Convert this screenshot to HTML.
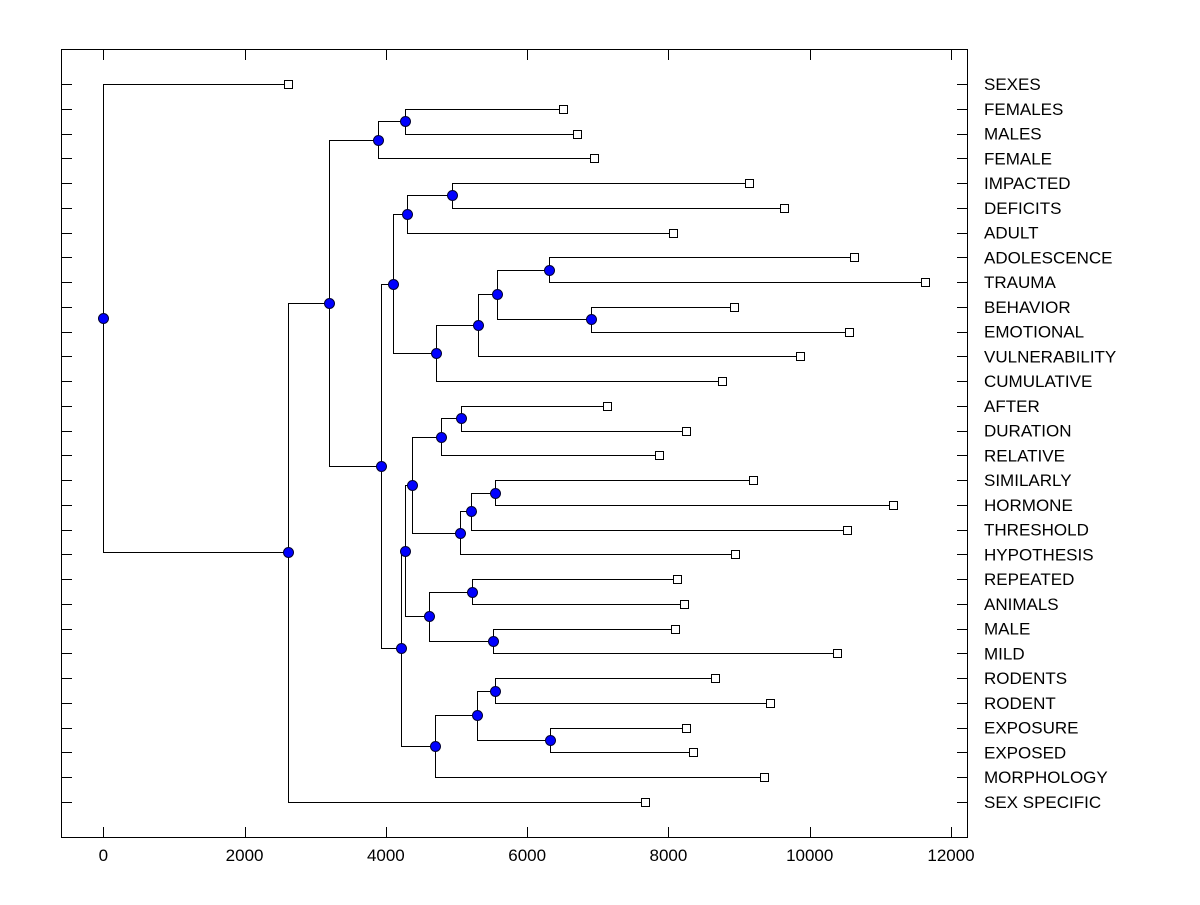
<!DOCTYPE html>
<html><head><meta charset="utf-8"><style>
body{margin:0;background:#fff;}
svg text{font-family:"Liberation Sans",Arial,sans-serif;font-size:17px;fill:#000;}
</style></head><body>
<svg id="chart" width="1200" height="900" viewBox="0 0 1200 900" xmlns="http://www.w3.org/2000/svg" shape-rendering="crispEdges">
<rect x="61.5" y="49.5" width="906" height="788" fill="none" stroke="#000" stroke-width="1"/>
<g id="axes"></g><g id="links"></g><g id="nodes"></g><g id="labels"></g>
</svg>
<script>
const leafNames = ["SEXES","FEMALES","MALES","FEMALE","IMPACTED","DEFICITS","ADULT","ADOLESCENCE","TRAUMA","BEHAVIOR","EMOTIONAL","VULNERABILITY","CUMULATIVE","AFTER","DURATION","RELATIVE","SIMILARLY","HORMONE","THRESHOLD","HYPOTHESIS","REPEATED","ANIMALS","MALE","MILD","RODENTS","RODENT","EXPOSURE","EXPOSED","MORPHOLOGY","SEX SPECIFIC"];
const leafValues = [2615,6502,6700,6940,9145,9640,8070,10630,11630,8933,10560,9866,8763,7124,8254,7873,9201,11180,10530,8947,8127,8226,8099,10389,8664,9442,8254,8353,9357,7675];
const xTicks = [0,2000,4000,6000,8000,10000,12000];
const mergeChildA = ["L1","N0","L4","N2","L7","L9","N4","N6","N7","N3","L13","N10","L16","N12","N13","N11","L20","L22","N16","N15","L24","L26","N20","N22","N19","N9","N1","N26","L0"];
const mergeChildB = ["L2","L3","L5","L6","L8","L10","N5","L11","L12","N8","L14","L15","L17","L18","L19","N14","L21","L23","N17","N18","L25","L27","N21","L28","N23","N24","N25","L29","N27"];
const mergeHeights = [4269,3887,4933,4297,6304,6898,5569,5300,4707,4099,5060,4777,5541,5201,5046,4367,5216,5512,4608,4269,5541,6318,5286,4693,4212,3929,3194,2615,0];

const NS="http://www.w3.org/2000/svg";
const x = v => 103.3 + v*(951-103.3)/12000;
const y = i => 84 + i*(802-84)/29;
const px = v => Math.round(v)+0.5;
function mk(tag, attrs, parent){const e=document.createElementNS(NS,tag);for(const k in attrs)e.setAttribute(k,attrs[k]);document.getElementById(parent).appendChild(e);return e;}

xTicks.forEach(t=>{
  const p=px(x(t));
  let l=mk('line',{x1:p,x2:p,y1:837,y2:827,stroke:'#000'},'axes');
  
  
  l=mk('line',{x1:p,x2:p,y1:50,y2:60,stroke:'#000'},'axes');
  
  
  const tx=mk('text',{x:x(t),y:861,'text-anchor':'middle'},'axes');
  tx.textContent=t;
  
  
});
leafNames.forEach((n,i)=>{
  const p=px(y(i));
  let l=mk('line',{x1:62,x2:72,y1:p,y2:p,stroke:'#000'},'axes');
  
  
  l=mk('line',{x1:957,x2:967,y1:p,y2:p,stroke:'#000'},'axes');
  
  
  const tx=mk('text',{x:984,y:y(i)+6},'labels');
  tx.textContent=n;
  
  
});

const pos={};
leafNames.forEach((n,i)=>{pos['L'+i]={x:x(leafValues[i]),y:y(i)};});
mergeHeights.forEach((h,k)=>{
  const a=pos[mergeChildA[k]],b=pos[mergeChildB[k]],nx=x(h),ny=(a.y+b.y)/2;
  pos['N'+k]={x:nx,y:ny};
  const p=mk('path',{d:`M${px(a.x)},${px(a.y)}H${px(nx)}V${px(b.y)}H${px(b.x)}`,fill:'none',stroke:'#000','stroke-width':1},'links');
  
  
});
mergeHeights.forEach((h,k)=>{
  const c=mk('circle',{cx:px(pos['N'+k].x),cy:px(pos['N'+k].y),r:5,fill:'#0000ff',stroke:'#000033','stroke-width':1,'shape-rendering':'auto'},'nodes');
  
  
});
leafNames.forEach((n,i)=>{
  const r=mk('rect',{x:Math.round(pos['L'+i].x)-3.5,y:Math.round(pos['L'+i].y)-3.5,width:8,height:8,fill:'#fff',stroke:'#000'},'nodes');
  
  
});
</script>
</body></html>
